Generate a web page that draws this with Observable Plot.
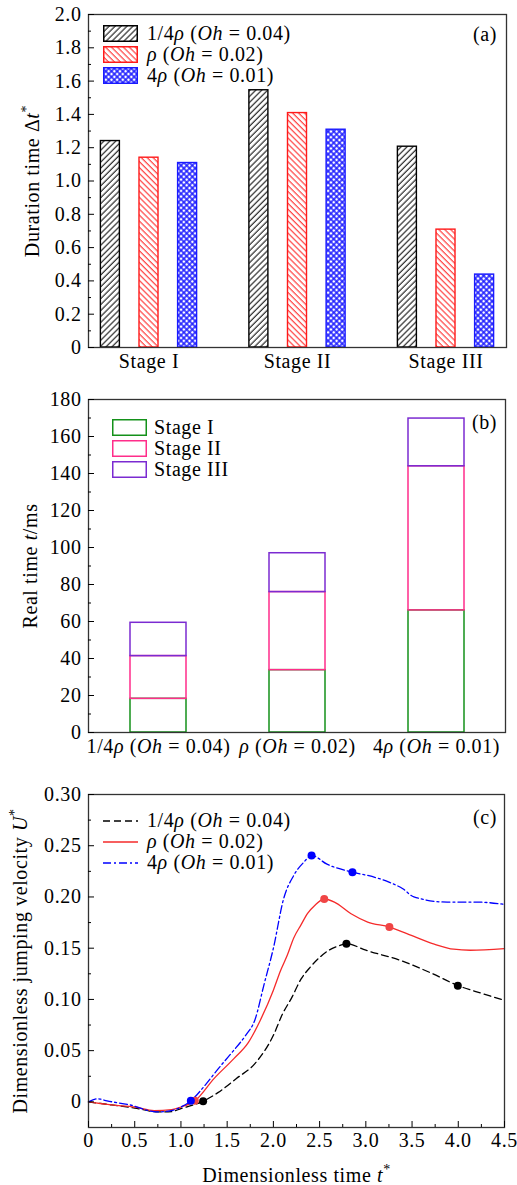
<!DOCTYPE html>
<html><head><meta charset="utf-8">
<script src="https://cdn.jsdelivr.net/npm/d3@7"></script>
<script src="https://cdn.jsdelivr.net/npm/@observablehq/plot@0.6"></script>
<style>
body{margin:0;background:#fff;font-family:"Liberation Serif",serif;}
#root{position:relative;width:517px;}
.panel{position:relative;width:517px;}
.panel > svg{display:block;}
.leg{position:absolute;font-size:20px;letter-spacing:0.6px;color:#000;}
.leg .row{display:flex;align-items:center;height:21px;white-space:nowrap;}
.leg .sw{flex:none;margin-right:9px;display:block;}
.tag{position:absolute;font-size:20px;line-height:20px;letter-spacing:0.6px;}
</style></head><body>
<svg width="0" height="0" style="position:absolute">
<defs>
<pattern id="pat0" width="4.2" height="4.2" patternUnits="userSpaceOnUse" patternTransform="rotate(45)"><rect width="4.2" height="4.2" fill="#fff"/><line x1="1" y1="0" x2="1" y2="4.2" stroke="#000" stroke-width="1"/></pattern>
<pattern id="pat1" width="4.2" height="4.2" patternUnits="userSpaceOnUse" patternTransform="rotate(-45)"><rect width="4.2" height="4.2" fill="#fff"/><line x1="1" y1="0" x2="1" y2="4.2" stroke="#ff1a1a" stroke-width="1"/></pattern>
<pattern id="pat2" width="4" height="4" patternUnits="userSpaceOnUse" patternTransform="rotate(45)"><rect width="4" height="4" fill="#fff"/><line x1="1" y1="0" x2="1" y2="4" stroke="#1a1aff" stroke-width="1.5"/><line x1="0" y1="1" x2="4" y2="1" stroke="#1a1aff" stroke-width="1.5"/></pattern>
</defs></svg>
<div id="root"></div>
<script>
// ---------- data ----------
const stages = ["Stage I", "Stage II", "Stage III"];
const cases = ["1/4ρ (Oh = 0.04)", "ρ (Oh = 0.02)", "4ρ (Oh = 0.01)"];
// (a) dimensionless duration of each stage
const durQuarter = [1.24, 1.545, 1.206];
const durRho = [1.14, 1.408, 0.708];
const durFour = [1.108, 1.308, 0.438];
// (b) real time per stage (ms), per case
const realStageI = [18.2, 33.7, 66.0];
const realStageII = [23.1, 42.2, 77.9];
const realStageIII = [18.0, 21.0, 25.8];
// (c) jumping velocity curves
const tQuarter = [0, 0.25, 0.5, 0.75, 0.9, 1.0, 1.24, 1.4, 1.6, 1.8, 2.0, 2.1, 2.2, 2.3, 2.4, 2.5, 2.6, 2.7, 2.79, 3.0, 3.375, 3.7, 4.0, 4.25, 4.5];
const uQuarter = [0, -0.003, -0.006, -0.0098, -0.0095, -0.0065, 0.0006, 0.009, 0.0228, 0.0374, 0.065, 0.086, 0.102, 0.12, 0.1316, 0.141, 0.148, 0.152, 0.1544, 0.148, 0.138, 0.126, 0.1134, 0.106, 0.099];
const tRho = [0, 0.25, 0.5, 0.71, 0.9, 1.0, 1.15, 1.36, 1.57, 1.73, 1.86, 2.0, 2.077, 2.15, 2.22, 2.3, 2.37, 2.45, 2.55, 2.66, 2.84, 3.02, 3.255, 3.45, 3.74, 3.95, 4.13, 4.5];
const uRho = [0, -0.003, -0.005, -0.0085, -0.0075, -0.005, 0.001, 0.023, 0.042, 0.058, 0.08, 0.109, 0.128, 0.143, 0.16, 0.173, 0.184, 0.192, 0.198, 0.195, 0.1836, 0.1755, 0.1706, 0.164, 0.154, 0.149, 0.148, 0.1495];
const tFour = [0, 0.1, 0.2, 0.45, 0.74, 0.92, 1.0, 1.107, 1.25, 1.4, 1.55, 1.7, 1.8, 1.9, 2.0, 2.11, 2.22, 2.33, 2.413, 2.58, 2.855, 3.02, 3.25, 3.4, 3.52, 3.88, 4.2, 4.5];
const uFour = [0, 0.003, 0.001, -0.003, -0.0098, -0.008, -0.005, 0.001, 0.015, 0.032, 0.048, 0.065, 0.08, 0.115, 0.15, 0.198, 0.221, 0.234, 0.2405, 0.232, 0.2242, 0.221, 0.2145, 0.208, 0.2, 0.195, 0.195, 0.1927];
// stage-boundary markers
const markQuarterT = [1.24, 2.79, 3.995];
const markQuarterU = [0.0006, 0.1544, 0.1134];
const markRhoT = [1.15, 2.55, 3.255];
const markRhoU = [0.001, 0.198, 0.1706];
const markFourT = [1.107, 2.413, 2.855];
const markFourU = [0.001, 0.2405, 0.2242];
// ticks
const yTicksA = [0, 0.2, 0.4, 0.6, 0.8, 1.0, 1.2, 1.4, 1.6, 1.8, 2.0];
const yTicksB = [0, 20, 40, 60, 80, 100, 120, 140, 160, 180];
const yTicksC = [0, 0.05, 0.10, 0.15, 0.20, 0.25, 0.30];
const xTicksC = [0, 0.5, 1.0, 1.5, 2.0, 2.5, 3.0, 3.5, 4.0, 4.5];

// ---------- styling ----------
const caseColors = ["#000000", "#ff1a1a", "#1a1aff"];
const casePatterns = ["url(#pat0)", "url(#pat1)", "url(#pat2)"];
const stageColors = ["#14911a", "#ff2d8a", "#7b2bd1"];
const lineColors = ["#000000", "#f52a2a", "#0000ff"];
const lineDash = ["7,4", null, "8,3,2,3"];
const font = {fontFamily: '"Liberation Serif", serif', fontSize: "20px", letterSpacing: "0.6px", background: "white", color: "black", overflow: "visible"};
const frameStyle = {stroke: "#333", strokeWidth: 1.3};
const fmt = (n) => (d) => d === 0 ? "0" : d.toFixed(n);
const ital = (s) => s.replace(/ρ/g, "\u0001").replace(/Oh/g, "\u0002");
const toSVG = (s) => ital(s).replace(/\u0001/g, '<tspan font-style="italic">ρ</tspan>').replace(/\u0002/g, '<tspan font-style="italic">Oh</tspan>');
const toHTML = (s) => ital(s).replace(/\u0001/g, '<i>ρ</i>').replace(/\u0002/g, '<i>Oh</i>');
const star = '<tspan dy="-8" font-size="14">*</tspan>';

const root = document.getElementById("root");
function panel(svg, h) {
  const div = document.createElement("div");
  div.className = "panel";
  div.style.height = h + "px";
  div.appendChild(svg);
  root.appendChild(div);
  return div;
}
function setLabel(svg, which, html) {
  const t = svg.querySelector(`[aria-label="${which}-axis label"] text`);
  if (t) t.innerHTML = html;
}
function addTag(div, txt, top) {
  const s = document.createElement("div");
  s.className = "tag"; s.textContent = txt;
  s.style.right = "20px"; s.style.top = top + "px";
  div.appendChild(s);
}

// ---------- (a) ----------
const durations = [durQuarter, durRho, durFour];
const aRows = [];
stages.forEach((s, i) => durations.forEach((arr, j) => aRows.push({stage: s, gi: i, ci: j, value: arr[i]})));
const groupPos = [1, 2, 3];
const slotOff = [-0.26, 0, 0.26];
const halfW = 0.064;
const svgA = Plot.plot({
  width: 517, height: 385, marginTop: 14, marginBottom: 38, marginLeft: 88, marginRight: 11,
  style: font,
  x: {type: "linear", domain: [0.5926, 3.4074]},
  y: {domain: [0, 2]},
  marks: [
    ...cases.map((c, j) => Plot.rectY(aRows.filter(d => d.ci === j), {
      x1: d => groupPos[d.gi] + slotOff[j] - halfW,
      x2: d => groupPos[d.gi] + slotOff[j] + halfW,
      y1: 0, y2: "value", fill: casePatterns[j], stroke: caseColors[j], strokeWidth: 1.4
    })),
    Plot.frame(frameStyle),
    Plot.axisY(yTicksA, {tickSize: 0, tickPadding: 7, tickFormat: fmt(1), label: "Duration time Δt*", labelAnchor: "center", labelOffset: 64}),
    Plot.axisY(yTicksA, {tickSize: 6, dx: 6, tickFormat: () => "", label: null}),
    Plot.axisY(d3.range(0.1, 2, 0.2), {tickSize: 3, dx: 3, tickFormat: () => "", label: null}),
    Plot.axisX(groupPos, {tickSize: 0, tickPadding: 6, tickFormat: d => stages[d - 1], label: null})
  ]
});
setLabel(svgA, "y", 'Duration time Δ<tspan font-style="italic">t</tspan>' + star);
const divA = panel(svgA, 385);
{
  const leg = document.createElement("div");
  leg.className = "leg"; leg.style.left = "103px"; leg.style.top = "23px";
  leg.innerHTML = cases.map((c, j) => `<div class="row"><svg class="sw" width="35" height="17"><rect x="0.75" y="0.75" width="33.5" height="15.5" fill="${casePatterns[j]}" stroke="${caseColors[j]}" stroke-width="1.5"/></svg><span>${toHTML(c)}</span></div>`).join("");
  divA.appendChild(leg);
  addTag(divA, "(a)", 24);
}

// ---------- (b) ----------
const realTimes = [realStageI, realStageII, realStageIII];
const bRows = [];
stages.forEach((s, k) => cases.forEach((c, i) => bRows.push({stage: s, case: c, value: realTimes[k][i]})));
const svgB = Plot.plot({
  width: 517, height: 385, marginTop: 14, marginBottom: 38, marginLeft: 88, marginRight: 12,
  style: font,
  x: {type: "band", domain: cases, paddingInner: 0.6, paddingOuter: 0.3},
  y: {domain: [0, 180]},
  color: {domain: stages, range: stageColors},
  marks: [
    Plot.barY(bRows, {x: "case", y: "value", z: "stage", stroke: "stage", fill: "none", strokeWidth: 1.5}),
    Plot.frame(frameStyle),
    Plot.axisY(yTicksB, {tickSize: 0, tickPadding: 7, label: "Real time t/ms", labelAnchor: "center", labelOffset: 66}),
    Plot.axisY(yTicksB, {tickSize: 6, dx: 6, tickFormat: () => "", label: null}),
    Plot.axisY(d3.range(10, 180, 20), {tickSize: 3, dx: 3, tickFormat: () => "", label: null}),
    Plot.axisX({tickSize: 0, tickPadding: 6, label: null})
  ]
});
setLabel(svgB, "y", 'Real time <tspan font-style="italic">t</tspan>/ms');
svgB.querySelectorAll('[aria-label="x-axis tick label"] text').forEach(t => { t.innerHTML = toSVG(t.textContent); });
const divB = panel(svgB, 385);
{
  const leg = document.createElement("div");
  leg.className = "leg"; leg.style.left = "112px"; leg.style.top = "32px";
  leg.innerHTML = stages.map((s, k) => `<div class="row"><svg class="sw" width="35" height="17" style="margin-right:7px"><rect x="0.75" y="0.75" width="33.5" height="15.5" fill="none" stroke="${stageColors[k]}" stroke-width="1.5"/></svg><span>${s}</span></div>`).join("");
  divB.appendChild(leg);
  addTag(divB, "(b)", 27);
}

// ---------- (c) ----------
const series = [
  {t: tQuarter, u: uQuarter, mt: markQuarterT, mu: markQuarterU},
  {t: tRho, u: uRho, mt: markRhoT, mu: markRhoU},
  {t: tFour, u: uFour, mt: markFourT, mu: markFourU}
];
const lineMarks = [], dotMarks = [];
series.forEach((s, j) => {
  const rows = s.t.map((t, i) => ({t, u: s.u[i]}));
  const marks = s.mt.map((t, i) => ({t, u: s.mu[i]}));
  lineMarks.push(Plot.line(rows, {x: "t", y: "u", stroke: lineColors[j], strokeWidth: 1.3, strokeDasharray: lineDash[j], curve: "monotone-x"}));
  dotMarks.push(Plot.dot(marks, {x: "t", y: "u", r: 4, fill: j === 1 ? "#f04545" : lineColors[j], stroke: "none"}));
});
const svgC = Plot.plot({
  width: 517, height: 415, marginTop: 24, marginBottom: 58, marginLeft: 88, marginRight: 13,
  style: font,
  x: {domain: [0, 4.5]},
  y: {domain: [-0.025, 0.30]},
  marks: [
    ...lineMarks,
    dotMarks[0], dotMarks[1], dotMarks[2],
    Plot.frame(frameStyle),
    Plot.axisY(yTicksC, {tickSize: 0, tickPadding: 7, tickFormat: fmt(2), label: "Dimensionless jumping velocity U*", labelAnchor: "center", labelOffset: 76}),
    Plot.axisY(yTicksC, {tickSize: 6, dx: 6, tickFormat: () => "", label: null}),
    Plot.axisY(d3.range(0.025, 0.3, 0.05), {tickSize: 3, dx: 3, tickFormat: () => "", label: null}),
    Plot.axisX(xTicksC, {tickSize: 0, tickPadding: 5, tickFormat: fmt(1), label: "Dimensionless time t*", labelAnchor: "center", labelOffset: 54}),
    Plot.axisX(xTicksC, {tickSize: 6, dy: -6, tickFormat: () => "", label: null}),
    Plot.axisX(d3.range(0.25, 4.5, 0.5), {tickSize: 3, dy: -3, tickFormat: () => "", label: null})
  ]
});
setLabel(svgC, "y", 'Dimensionless jumping velocity <tspan font-style="italic">U</tspan>' + star);
setLabel(svgC, "x", 'Dimensionless time <tspan font-style="italic">t</tspan>' + star);
const divC = panel(svgC, 415);
{
  const leg = document.createElement("div");
  leg.className = "leg"; leg.style.left = "103px"; leg.style.top = "40px";
  leg.innerHTML = cases.map((c, j) => `<div class="row"><svg class="sw" width="35" height="10"><line x1="0" y1="5" x2="35" y2="5" stroke="${lineColors[j]}" stroke-width="1.3" ${lineDash[j] ? `stroke-dasharray="${lineDash[j]}"` : ""}/></svg><span>${toHTML(c)}</span></div>`).join("");
  divC.appendChild(leg);
  addTag(divC, "(c)", 37);
}
</script></body></html>
